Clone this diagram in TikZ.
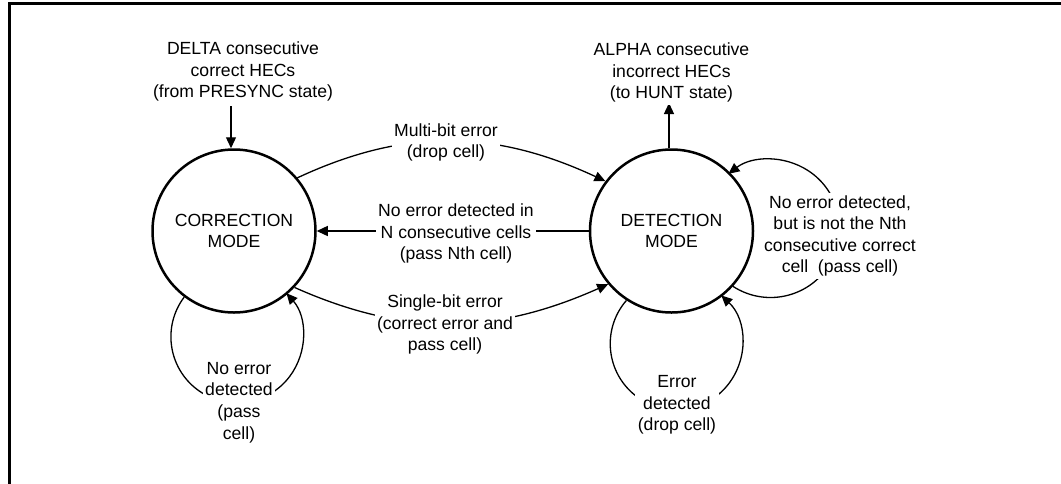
\documentclass[tikz,border=0pt]{standalone}
\usepackage{fontspec}
\setmainfont{Liberation Sans}
\usetikzlibrary{arrows.meta}
\begin{document}
\begin{tikzpicture}[x=1pt,y=1pt,
  every node/.style={font=\fontsize{17.6}{21.6}\selectfont},
  state/.style={circle, draw, line width=2.5pt, minimum size=163pt, inner sep=0pt, align=center},
  lbl/.style={align=center, fill=white, inner sep=2.5pt},
  conn/.style={line width=1.3pt, -{Triangle[length=11pt,width=10pt]}},
  frame/.style={line width=3pt}]
\useasboundingbox (0,0) rectangle (1061,-483);
% frame (only left and top edges visible)
\coordinate (fbl) at (9.5,-484);
\coordinate (ftl) at (9.5,-3.5);
\coordinate (ftr) at (1062,-3.5);
\draw[frame] (fbl) -- (ftl) -- (ftr);
% states
\node[state] (cm) at (234,-231) {CORRECTION\\MODE};
\node[state] (dm) at (671.5,-231) {DETECTION\\MODE};
% entry / exit
\coordinate (din) at (231,-106);
\coordinate (aout) at (669,-103);
\draw[conn] (din) -- (din |- cm.north);
\draw[conn] (aout |- dm.north) -- (aout);
% transitions between states
\draw[conn] (cm.40) to[out=25,in=155] (dm.143);
\draw[conn] (dm.west) -- (cm.east);
\draw[conn] (cm.317) to[out=-24,in=204] (dm.220);
% self loops
\draw[conn] (cm.233) arc[start angle=143, end angle=401.4, radius=66];
\draw[conn] (dm.237) arc[start angle=139, end angle=407, radius=66];
\draw[conn] (dm.318) arc[start angle=237, end angle=487.6, radius=69];
% labels
\node[lbl] (delta) at (243,-71.5) {DELTA consecutive\\correct HECs\\(from PRESYNC state)};
\node[lbl] (alpha) at (671.5,-72.5) {ALPHA consecutive\\incorrect HECs\\(to HUNT state)};
\node[lbl] (multi) at (446,-142.5) {Multi-bit error\\(drop cell)};
\node[lbl] (noerr) at (456,-233.5) {No error detected in\\N consecutive cells\\(pass Nth cell)};
\node[lbl] (single) at (445,-324.5) {Single-bit error\\(correct error and\\pass cell)};
\node[lbl] (loopc) at (239,-402.5) {No error\\detected\\(pass\\cell)};
\node[lbl] (loopd) at (677,-405) {Error\\detected\\(drop cell)};
\node[lbl] (loopn) at (840,-236) {No error detected,\\but is not the Nth\\consecutive correct\\cell\ \ (pass cell)};
\end{tikzpicture}
\end{document}
